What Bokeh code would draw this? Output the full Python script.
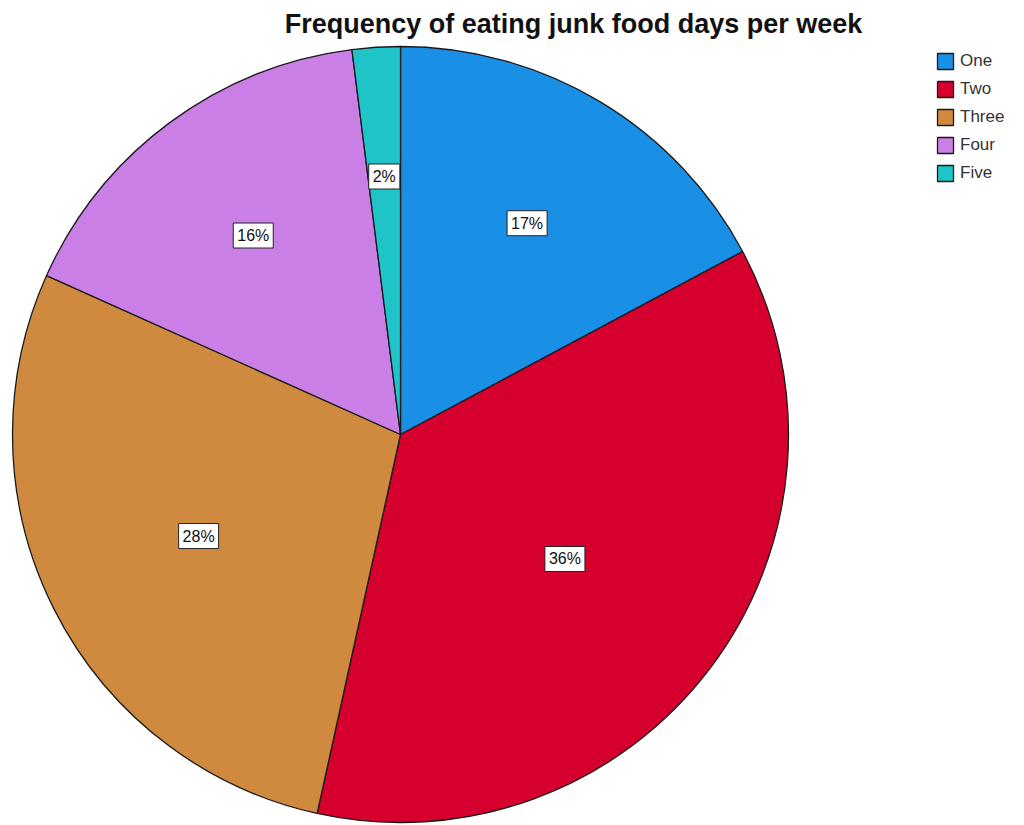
import math
from bokeh.plotting import figure
from bokeh.models import Range1d, ColumnDataSource, Legend, LegendItem
from bokeh.core.properties import value
from bokeh.embed import file_html
from bokeh.resources import INLINE

# ---- data ----
categories = ["One", "Two", "Three", "Four", "Five"]
percents = [17.2, 36.3, 28.3, 16.3, 2.0]
colors = ["#1a8fe6", "#d6002f", "#d08a40", "#c97fe6", "#1fc4c8"]
title_text = "Frequency of eating junk food days per week"

W, H = 1024, 825
cx, cy, r = 400, H - 434, 388

total = sum(percents)
starts, ends, lx, ly, labels = [], [], [], [], []
cum = 0.0
for v in percents:
    s = cum / total
    e = (cum + v) / total
    cum += v
    starts.append(math.pi / 2 - 2 * math.pi * e)
    ends.append(math.pi / 2 - 2 * math.pi * s)
    alpha = 2 * math.pi * (e - s)
    mid = math.pi / 2 - 2 * math.pi * (s + e) / 2
    d = 4 * r * math.sin(alpha / 2) / (3 * alpha)
    lx.append(cx + d * math.cos(mid))
    ly.append(cy + d * math.sin(mid))
    labels.append(f"{round(v / total * 100)}%")

src = ColumnDataSource(dict(cat=categories, start=starts, end=ends, color=colors,
                            lx=lx, ly=ly, label=labels))

p = figure(width=W, height=H, x_range=Range1d(0, W), y_range=Range1d(0, H),
           output_backend="svg", toolbar_location=None, min_border=0)
p.axis.visible = False
p.grid.visible = False
p.outline_line_color = None
p.background_fill_color = "white"

wed = p.wedge(x=cx, y=cy, radius=r, start_angle="start", end_angle="end",
              fill_color="color", line_color="#1a1a1a", line_width=1.3, source=src)

p.text(x="lx", y="ly", text="label", source=src, text_align="center",
       text_baseline="middle", text_font=value("Liberation Sans"),
       text_font_size="16px", text_color="#111111",
       background_fill_color="white", border_line_color="#222222",
       border_line_width=1, padding=4)

p.text(x=[573], y=[H - 23], text=[title_text], text_align="center",
       text_baseline="middle", text_font=value("Liberation Sans"),
       text_font_style="bold", text_font_size="27px", text_color="#111111")

items = [LegendItem(label=c, renderers=[wed], index=i) for i, c in enumerate(categories)]
legend = Legend(items=items, location=(935, H - 183), orientation="vertical",
                glyph_width=20, glyph_height=20, spacing=8, padding=4, margin=0,
                label_text_font="Liberation Sans", label_text_font_size="17px",
                label_text_color="#333333", label_standoff=5, label_height=20,
                background_fill_alpha=0, border_line_color=None)
p.add_layout(legend, "center")

open("out.html", "w").write(file_html(p, INLINE))
